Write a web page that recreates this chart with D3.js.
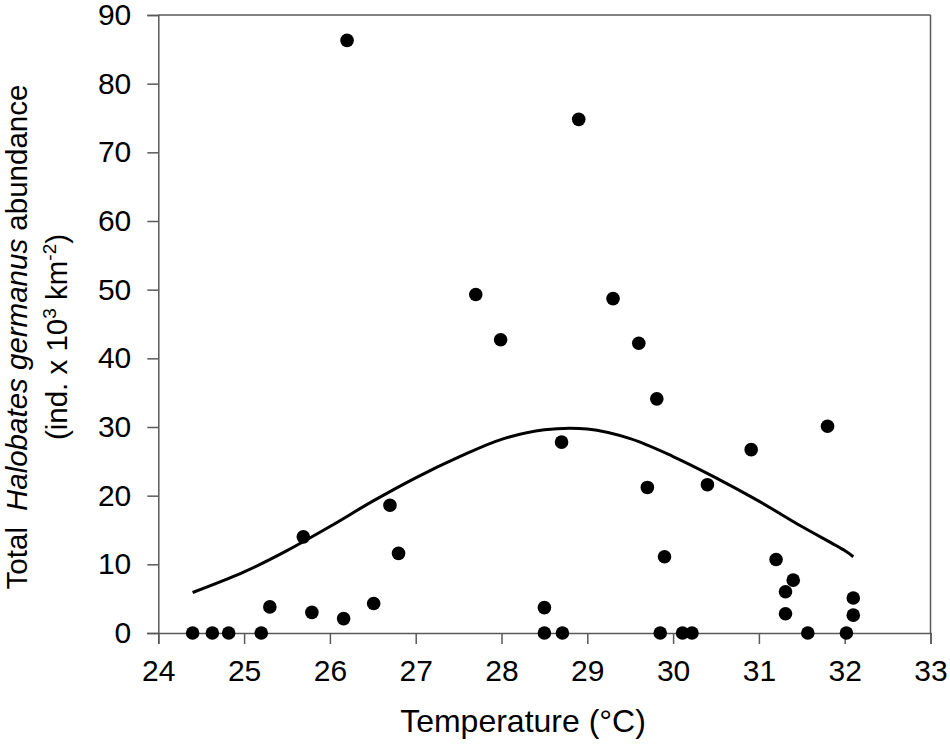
<!DOCTYPE html>
<html>
<head>
<meta charset="utf-8">
<script src="https://cdn.jsdelivr.net/npm/d3@7/dist/d3.min.js"></script>
<style>
  html, body { margin: 0; padding: 0; background: #fff; }
  svg { display: block; font-family: "Liberation Sans", Arial, sans-serif; }
</style>
</head>
<body>
<svg id="chart" width="950" height="746"></svg>
<script>
// Observed points: temperature (°C) and abundance (ind. x 10^3 km^-2)
const temperature = [24.40, 24.63, 24.82, 25.20, 25.30, 25.69, 25.79, 26.16, 26.20, 26.51,
  26.70, 26.80, 27.70, 27.99, 28.50, 28.50, 28.70, 28.71, 28.90, 29.30,
  29.60, 29.70, 29.81, 29.85, 29.90, 30.11, 30.22, 30.40, 30.91, 31.20,
  31.31, 31.31, 31.40, 31.57, 31.80, 32.02, 32.10, 32.10];
const abundance = [0, 0, 0, 0, 3.8, 14.0, 3.0, 2.1, 86.3, 4.3,
  18.6, 11.6, 49.3, 42.7, 3.7, 0, 27.8, 0, 74.8, 48.7,
  42.2, 21.2, 34.1, 0, 11.1, 0, 0, 21.6, 26.7, 10.7,
  6.0, 2.8, 7.7, 0, 30.1, 0, 5.1, 2.6];

// Fitted curve
const curveTemp = [24.4, 25.0, 25.5, 26.0, 26.5, 27.0, 27.5, 28.0, 28.5, 29.0, 29.5, 30.0, 30.5, 31.0, 31.5, 32.0, 32.1];
const curveAbund = [5.9, 8.9, 12.0, 15.5, 19.2, 22.6, 25.6, 28.2, 29.6, 29.7, 28.3, 25.7, 22.6, 19.2, 15.5, 12.0, 11.1];

const xTicks = [24, 25, 26, 27, 28, 29, 30, 31, 32, 33];
const yTicks = [0, 10, 20, 30, 40, 50, 60, 70, 80, 90];

const svg = d3.select("#chart");
const L = 158.3, R = 930.5, T = 15, B = 633;
const axisColor = "#595959";
const tickFont = 30;

const x = d3.scaleLinear().domain([24, 33]).range([L, R]);
const y = d3.scaleLinear().domain([0, 90]).range([B, T]);

// Frame (top and right)
svg.append("line").attr("x1", L).attr("x2", R).attr("y1", T).attr("y2", T)
  .attr("stroke", axisColor).attr("stroke-width", 1.5);
svg.append("line").attr("x1", R).attr("x2", R).attr("y1", T).attr("y2", B)
  .attr("stroke", axisColor).attr("stroke-width", 1.5);

// X axis
const xAxis = svg.append("g").attr("transform", `translate(0,${B})`)
  .call(d3.axisBottom(x).tickValues(xTicks).tickSize(11).tickPadding(16).tickFormat(d3.format("d")));
// Y axis
const yAxis = svg.append("g").attr("transform", `translate(${L},0)`)
  .call(d3.axisLeft(y).tickValues(yTicks).tickSize(11).tickPadding(16).tickFormat(d3.format("d")));

[xAxis, yAxis].forEach(g => {
  g.select(".domain").attr("stroke", axisColor).attr("stroke-width", 1.5);
  g.selectAll(".tick line").attr("stroke", axisColor).attr("stroke-width", 1.5);
  g.selectAll(".tick text").attr("fill", "#000").style("font-size", tickFont + "px")
    .style("font-family", '"Liberation Sans", Arial, sans-serif');
});

// Curve
const curveData = curveTemp.map((t, i) => [t, curveAbund[i]]);
svg.append("path").datum(curveData)
  .attr("fill", "none").attr("stroke", "#000").attr("stroke-width", 3)
  .attr("d", d3.line().x(d => x(d[0])).y(d => y(d[1])).curve(d3.curveCatmullRom));

// Points
const pts = temperature.map((t, i) => [t, abundance[i]]);
svg.append("g").selectAll("circle").data(pts).join("circle")
  .attr("cx", d => x(d[0])).attr("cy", d => y(d[1])).attr("r", 6.8).attr("fill", "#000");

// X title
svg.append("text").attr("x", 523).attr("y", 732).attr("text-anchor", "middle")
  .style("font-size", "32px").text("Temperature (°C)");

// Y title
const yc = 337;
const t1 = svg.append("text").attr("transform", `translate(27,${yc}) rotate(-90)`)
  .attr("text-anchor", "middle").style("font-size", "29.5px");
t1.append("tspan").text("Total");
t1.append("tspan").attr("dx", 16).style("font-style", "italic").text("Halobates germanus");
t1.append("tspan").text(" abundance");

const t2 = svg.append("text").attr("transform", `translate(67,${yc}) rotate(-90)`)
  .attr("text-anchor", "middle").style("font-size", "29.5px");
t2.append("tspan").text("(ind. x 10");
t2.append("tspan").attr("dy", -11).style("font-size", "19px").text("3");
t2.append("tspan").attr("dy", 11).text(" km");
t2.append("tspan").attr("dy", -11).style("font-size", "19px").text("-2");
t2.append("tspan").attr("dy", 11).text(")");
</script>
</body>
</html>
